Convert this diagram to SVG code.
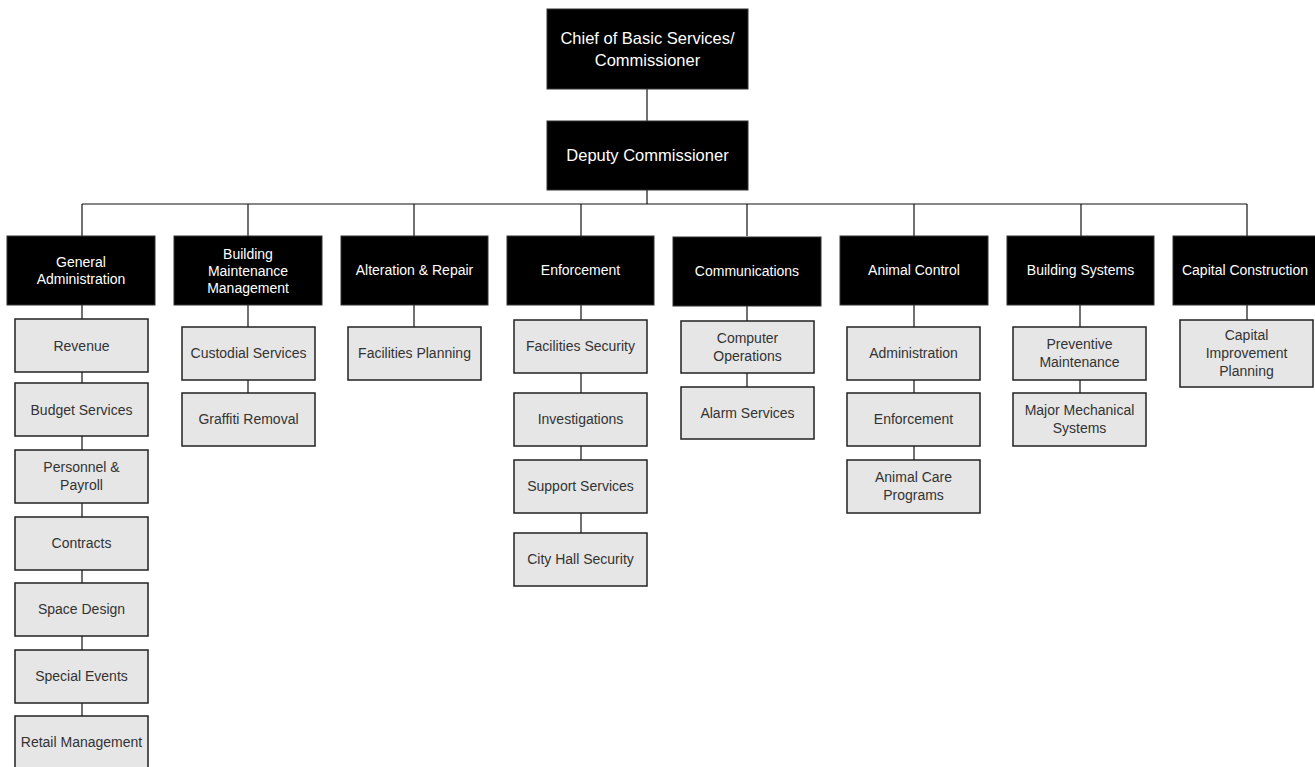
<svg xmlns="http://www.w3.org/2000/svg" width="1315" height="767" viewBox="0 0 1315 767">
<style>
.top rect{fill:#000;stroke:#333;stroke-width:1}
.top text{fill:#fff;font-family:"Liberation Sans",Arial,sans-serif;text-anchor:middle}
.sub rect{fill:#e6e6e6;stroke:#222;stroke-width:1.5}
.sub text{fill:#333;font-family:"Liberation Sans",Arial,sans-serif;font-size:14px;text-anchor:middle}
.l2 text{font-size:14px}
#connectors line{stroke:#111;stroke-width:1.2}
</style>
<rect width="1315" height="767" fill="#fff"/>
<g id="connectors">
<line x1="647" y1="89" x2="647" y2="121"/>
<line x1="647" y1="190" x2="647" y2="204"/>
<line x1="82" y1="204" x2="1247" y2="204"/>
<line x1="82" y1="204" x2="82" y2="236"/>
<line x1="248" y1="204" x2="248" y2="236"/>
<line x1="414" y1="204" x2="414" y2="236"/>
<line x1="581" y1="204" x2="581" y2="236"/>
<line x1="747" y1="204" x2="747" y2="236"/>
<line x1="914" y1="204" x2="914" y2="236"/>
<line x1="1081" y1="204" x2="1081" y2="236"/>
<line x1="1247" y1="204" x2="1247" y2="236"/>
<line x1="82" y1="305" x2="82" y2="716"/>
<line x1="248" y1="305" x2="248" y2="393"/>
<line x1="414" y1="305" x2="414" y2="327"/>
<line x1="581" y1="305" x2="581" y2="533"/>
<line x1="747" y1="305" x2="747" y2="387"/>
<line x1="914" y1="305" x2="914" y2="460"/>
<line x1="1080" y1="305" x2="1080" y2="393"/>
<line x1="1247" y1="305" x2="1247" y2="320"/>
</g>
<g id="chief" class="top"><rect x="547" y="9" width="201" height="80"/><text x="647.5" y="44" font-size="16.5">Chief of Basic Services/</text><text x="647.5" y="66" font-size="16.5">Commissioner</text></g>
<g id="deputy" class="top"><rect x="547" y="121" width="201" height="69"/><text x="647.5" y="161" font-size="16.5">Deputy Commissioner</text></g>
<g id="genadmin" class="top l2"><rect x="7" y="236" width="148" height="69"/><text x="81" y="267">General</text><text x="81" y="284">Administration</text></g>
<g id="bmm" class="top l2"><rect x="174" y="236" width="148" height="69"/><text x="248" y="259">Building</text><text x="248" y="276">Maintenance</text><text x="248" y="293">Management</text></g>
<g id="alteration" class="top l2"><rect x="341" y="236" width="147" height="69"/><text x="414.5" y="275">Alteration &amp; Repair</text></g>
<g id="enforcement" class="top l2"><rect x="507" y="236" width="147" height="69"/><text x="580.5" y="275">Enforcement</text></g>
<g id="communications" class="top l2"><rect x="673" y="237" width="148" height="69"/><text x="747" y="276">Communications</text></g>
<g id="animalcontrol" class="top l2"><rect x="840" y="236" width="148" height="69"/><text x="914" y="275">Animal Control</text></g>
<g id="buildingsystems" class="top l2"><rect x="1007" y="236" width="147" height="69"/><text x="1080.5" y="275">Building Systems</text></g>
<g id="capitalconstruction" class="top l2"><rect x="1173" y="236" width="148" height="69"/><text x="1245" y="275">Capital Construction</text></g>
<g id="revenue" class="sub"><rect x="15" y="319" width="133" height="53"/><text x="81.5" y="351">Revenue</text></g>
<g id="budget" class="sub"><rect x="15" y="383" width="133" height="53"/><text x="81.5" y="415">Budget Services</text></g>
<g id="personnel" class="sub"><rect x="15" y="450" width="133" height="53"/><text x="81.5" y="472">Personnel &amp;</text><text x="81.5" y="490">Payroll</text></g>
<g id="contracts" class="sub"><rect x="15" y="517" width="133" height="53"/><text x="81.5" y="548">Contracts</text></g>
<g id="spacedesign" class="sub"><rect x="15" y="583" width="133" height="53"/><text x="81.5" y="614">Space Design</text></g>
<g id="specialevents" class="sub"><rect x="15" y="650" width="133" height="53"/><text x="81.5" y="681">Special Events</text></g>
<g id="retail" class="sub"><rect x="15" y="716" width="133" height="53"/><text x="81.5" y="747">Retail Management</text></g>
<g id="custodial" class="sub"><rect x="182" y="327" width="133" height="53"/><text x="248.5" y="358">Custodial Services</text></g>
<g id="graffiti" class="sub"><rect x="182" y="393" width="133" height="53"/><text x="248.5" y="424">Graffiti Removal</text></g>
<g id="facplanning" class="sub"><rect x="348" y="327" width="133" height="53"/><text x="414.5" y="358">Facilities Planning</text></g>
<g id="facsecurity" class="sub"><rect x="514" y="320" width="133" height="53"/><text x="580.5" y="351">Facilities Security</text></g>
<g id="investigations" class="sub"><rect x="514" y="393" width="133" height="53"/><text x="580.5" y="424">Investigations</text></g>
<g id="support" class="sub"><rect x="514" y="460" width="133" height="53"/><text x="580.5" y="491">Support Services</text></g>
<g id="cityhall" class="sub"><rect x="514" y="533" width="133" height="53"/><text x="580.5" y="564">City Hall Security</text></g>
<g id="computerops" class="sub"><rect x="681" y="321" width="133" height="52"/><text x="747.5" y="343">Computer</text><text x="747.5" y="361">Operations</text></g>
<g id="alarm" class="sub"><rect x="681" y="387" width="133" height="52"/><text x="747.5" y="418">Alarm Services</text></g>
<g id="acadmin" class="sub"><rect x="847" y="327" width="133" height="53"/><text x="913.5" y="358">Administration</text></g>
<g id="acenforcement" class="sub"><rect x="847" y="393" width="133" height="53"/><text x="913.5" y="424">Enforcement</text></g>
<g id="animalcare" class="sub"><rect x="847" y="460" width="133" height="53"/><text x="913.5" y="482">Animal Care</text><text x="913.5" y="500">Programs</text></g>
<g id="preventive" class="sub"><rect x="1013" y="327" width="133" height="53"/><text x="1079.5" y="349">Preventive</text><text x="1079.5" y="367">Maintenance</text></g>
<g id="majormech" class="sub"><rect x="1013" y="393" width="133" height="53"/><text x="1079.5" y="415">Major Mechanical</text><text x="1079.5" y="433">Systems</text></g>
<g id="capimprovement" class="sub"><rect x="1180" y="320" width="133" height="67"/><text x="1246.5" y="340">Capital</text><text x="1246.5" y="358">Improvement</text><text x="1246.5" y="376">Planning</text></g>
</svg>
